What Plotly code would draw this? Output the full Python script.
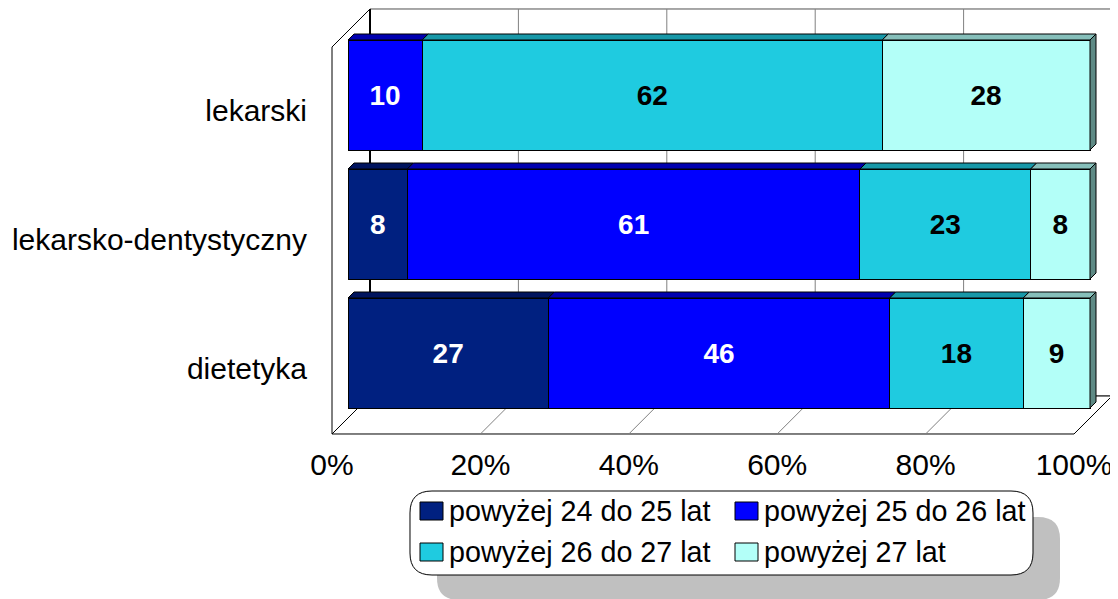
import plotly.graph_objects as go

# ---------------- data ----------------
categories = ["lekarski", "lekarsko-dentystyczny", "dietetyka"]
series_names = ["powyżej 24 do 25 lat", "powyżej 25 do 26 lat",
                "powyżej 26 do 27 lat", "powyżej 27 lat"]
s1 = [0, 8, 27]
s2 = [10, 61, 46]
s3 = [62, 23, 18]
s4 = [28, 8, 9]
tick_values = [0, 20, 40, 60, 80, 100]
tick_labels = ["0%", "20%", "40%", "60%", "80%", "100%"]

# ---------------- styles ----------------
series = [s1, s2, s3, s4]
front_col = ["#002080", "#0000FF", "#1FCBE0", "#B3FFF8"]
top_col = ["#00145E", "#0000B0", "#1898A8", "#86BFBA"]
side_col = "#5E8A85"
label_col = ["white", "white", "black", "black"]
FONT = "Arial, Liberation Sans, sans-serif"

OFF = 8                         # page body margin of the html output
W, H = 1118 - OFF, 599 - OFF    # figure size
# plot area in page pixels
PL, PR, PT, PB = 320, 1118, 8, 440
L, T = PL - OFF, PT - OFF
PW, PH = PR - PL, PB - PT
R, B = W - L - PW, H - T - PH

X0PX, SX = 348.0, 7.42          # page pixel of 0 %, px per %
Y0PX, SY = 95.0, 129.0          # page pixel of first category centre, px per category
BAR_W = 110.0 / SY
DEPTH = 6.0                     # bar depth in px

x_range = [(PL - X0PX) / SX, (PR - X0PX) / SX]
y_range = [(PB - Y0PX) / SY, (PT - Y0PX) / SY]  # reversed


def xd(px):
    return (px - X0PX) / SX


def yp(py):
    return 1 - (py - PT) / PH


def xp(px):
    return (px - PL) / PW


def cat_py(i):
    return Y0PX + SY * i


fig = go.Figure()

# ---------------- bars ----------------
for j, s in enumerate(series):
    fig.add_trace(go.Bar(
        orientation="h", y=categories, x=s, name=series_names[j],
        width=BAR_W,
        marker=dict(color=front_col[j], line=dict(color="black", width=1)),
        text=[str(v) if v else "" for v in s],
        textposition="inside", insidetextanchor="middle", textangle=0,
        constraintext="none",
        textfont=dict(family=FONT, size=28, color=label_col[j],
                      weight="bold"),
        showlegend=False, hoverinfo="skip",
    ))

shapes = []

# ---------------- 3D frame ----------------
FL, FR, FB = 332.0, 332.0 + 742, 434.0      # floor front edge
DX, DY = 38.0, -38.0                         # wall depth
BWL, BWR, BWT, BWB = FL + DX, FR + DX, 9.0, FB + DY


def poly(pts, **kw):
    path = "M " + " L ".join(f"{xd(a):.5f},{yp(b):.5f}" for a, b in pts) + " Z"
    return dict(type="path", path=path, xref="x", yref="paper", **kw)


# back wall
shapes.append(poly([(BWL, BWT), (BWR, BWT), (BWR, BWB), (BWL, BWB)],
                   fillcolor="white", line=dict(color="#505050", width=1), layer="below"))
# left wall
shapes.append(poly([(FL, BWT - DY), (BWL, BWT), (BWL, BWB), (FL, FB)],
                   fillcolor="white", line=dict(color="black", width=1), layer="below"))
# floor
shapes.append(poly([(FL, FB), (FR, FB), (BWR, BWB), (BWL, BWB)],
                   fillcolor="white", line=dict(color="black", width=1), layer="below"))
# gridlines
for v in tick_values[1:-1]:
    bx = BWL + v * SX
    fx_ = FL + v * SX
    shapes.append(dict(type="line", xref="x", yref="paper",
                       x0=xd(bx), x1=xd(bx), y0=yp(BWT), y1=yp(BWB),
                       line=dict(color="#808080", width=1), layer="below"))
    shapes.append(dict(type="line", xref="x", yref="paper",
                       x0=xd(fx_), x1=xd(bx), y0=yp(FB), y1=yp(BWB),
                       line=dict(color="#808080", width=1), layer="below"))
shapes.append(dict(type="line", xref="x", yref="paper",
                   x0=xd(BWL), x1=xd(BWL), y0=yp(BWT), y1=yp(BWB),
                   line=dict(color="black", width=2), layer="below"))

# ---------------- bar tops and sides ----------------
dxu = DEPTH / SX
for i in range(len(categories)):
    yt = cat_py(i) - BAR_W * SY / 2
    yb = cat_py(i) + BAR_W * SY / 2
    cum = 0
    for j, s in enumerate(series):
        v = s[i]
        if v <= 0:
            continue
        x0, x1 = cum, cum + v
        path = (f"M {x0:.4f},{yp(yt):.5f} L {x1:.4f},{yp(yt):.5f} "
                f"L {x1 + dxu:.4f},{yp(yt - DEPTH):.5f} L {x0 + dxu:.4f},{yp(yt - DEPTH):.5f} Z")
        shapes.append(dict(type="path", path=path, xref="x", yref="paper",
                           fillcolor=top_col[j], line=dict(color="black", width=1)))
        cum = x1
    path = (f"M {cum:.4f},{yp(yt):.5f} L {cum + dxu:.4f},{yp(yt - DEPTH):.5f} "
            f"L {cum + dxu:.4f},{yp(yb - DEPTH):.5f} L {cum:.4f},{yp(yb):.5f} Z")
    shapes.append(dict(type="path", path=path, xref="x", yref="paper",
                       fillcolor=side_col, line=dict(color="black", width=1)))


# ---------------- legend (manual) ----------------
def rounded(x0, y0, x1, y1, r):
    return (f"M {xp(x0 + r):.5f},{yp(y0):.5f} L {xp(x1 - r):.5f},{yp(y0):.5f} "
            f"Q {xp(x1):.5f},{yp(y0):.5f} {xp(x1):.5f},{yp(y0 + r):.5f} "
            f"L {xp(x1):.5f},{yp(y1 - r):.5f} "
            f"Q {xp(x1):.5f},{yp(y1):.5f} {xp(x1 - r):.5f},{yp(y1):.5f} "
            f"L {xp(x0 + r):.5f},{yp(y1):.5f} "
            f"Q {xp(x0):.5f},{yp(y1):.5f} {xp(x0):.5f},{yp(y1 - r):.5f} "
            f"L {xp(x0):.5f},{yp(y0 + r):.5f} "
            f"Q {xp(x0):.5f},{yp(y0):.5f} {xp(x0 + r):.5f},{yp(y0):.5f} Z")


shapes.append(dict(type="path", xref="paper", yref="paper",
                   path=rounded(437, 517, 1060, 600, 22),
                   fillcolor="#C0C0C0", line=dict(width=0)))
shapes.append(dict(type="path", xref="paper", yref="paper",
                   path=rounded(410, 491, 1033, 575, 22),
                   fillcolor="white", line=dict(color="black", width=1)))

annotations = []
leg_cols = [420, 735]
leg_rows = [511, 552]
for j, name in enumerate(series_names):
    cx = leg_cols[j % 2]
    cy = leg_rows[j // 2]
    shapes.append(dict(type="rect", xref="paper", yref="paper",
                       x0=xp(cx), x1=xp(cx + 23), y0=yp(cy - 9), y1=yp(cy + 9),
                       fillcolor=front_col[j], line=dict(color="black", width=1)))
    annotations.append(dict(xref="paper", yref="paper", x=xp(cx + 27), y=yp(cy),
                            xanchor="left", yanchor="middle", showarrow=False,
                            text=name, font=dict(family=FONT, size=28.7, color="black")))

fig.update_layout(
    width=W, height=H,
    margin=dict(l=L, r=R, t=T, b=B, pad=0, autoexpand=False),
    paper_bgcolor="white", plot_bgcolor="white",
    barmode="stack",
    showlegend=False,
    shapes=shapes, annotations=annotations,
    xaxis=dict(range=x_range, tickvals=tick_values, ticktext=tick_labels,
               showgrid=False, zeroline=False, showline=False, ticks="",
               automargin=False,
               ticklabelshift=-16, ticklabelstandoff=4,
               tickfont=dict(family=FONT, size=30, color="black"), fixedrange=True),
    yaxis=dict(range=y_range, type="category", showgrid=False, zeroline=False,
               showline=False, ticks="", automargin=False,
               ticklabelshift=-15, ticklabelstandoff=12,
               tickfont=dict(family=FONT, size=30, color="black"), fixedrange=True),
)

fig.write_html("out.html")
